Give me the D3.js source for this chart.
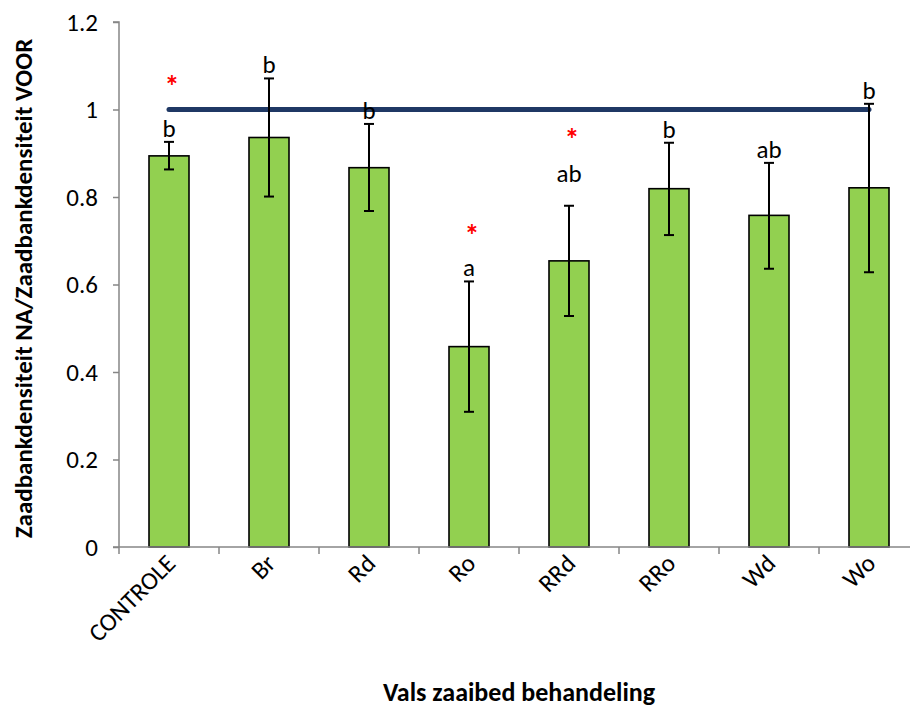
<!DOCTYPE html>
<html>
<head>
<meta charset="utf-8">
<script src="https://cdn.jsdelivr.net/npm/d3@7/dist/d3.min.js"></script>
<style>
  html, body { margin: 0; padding: 0; background: #ffffff; }
  svg { display: block; }
  text { font-family: Carlito, Calibri, Lato, "Open Sans", sans-serif; }
</style>
</head>
<body>
<div id="chart"></div>
<script>
// Treatments on the x axis
const categories = ["CONTROLE", "Br", "Rd", "Ro", "RRd", "RRo", "Wd", "Wo"];
// Mean ratio seed bank density after / before
const means = [0.894, 0.936, 0.867, 0.458, 0.654, 0.819, 0.758, 0.821];
// Upper and lower ends of the error bars
const errHigh = [0.926, 1.071, 0.967, 0.607, 0.780, 0.924, 0.878, 1.013];
const errLow  = [0.863, 0.801, 0.768, 0.309, 0.528, 0.713, 0.636, 0.628];
// Significance letters and asterisks
const letters = ["b", "b", "b", "a", "ab", "b", "ab", "b"];
const stars = [true, false, false, true, true, false, false, false];
// Reference level (ratio of 1 = no change)
const refLevel = 1;
const yTicks = [0, 0.2, 0.4, 0.6, 0.8, 1, 1.2];

const W = 910, H = 708;
const margin = { left: 119, top: 22, right: -9, bottom: 161 };
const plotW = W - margin.left - margin.right;
const plotH = H - margin.top - margin.bottom;

const svg = d3.select("#chart").append("svg")
  .attr("width", W).attr("height", H);

const g = svg.append("g").attr("transform", `translate(${margin.left},${margin.top})`);

const x = d3.scaleBand().domain(categories).range([0, plotW]).paddingInner(0.6).paddingOuter(0.3);
const y = d3.scaleLinear().domain([0, 1.2]).range([plotH, 0]);

const axisColor = "#868686";

// Bars
g.selectAll("rect.bar").data(categories).enter().append("rect")
  .attr("class", "bar")
  .attr("x", d => x(d))
  .attr("width", x.bandwidth())
  .attr("y", (d, i) => y(means[i]))
  .attr("height", (d, i) => y(0) - y(means[i]))
  .attr("fill", "#92d050")
  .attr("stroke", "#000")
  .attr("stroke-width", 1.6);

// Y axis
const yAxis = g.append("g")
  .call(d3.axisLeft(y).tickValues(yTicks).tickSize(6).tickPadding(15)
    .tickFormat(d => d3.format("")(d)));
yAxis.select(".domain").attr("stroke", axisColor).attr("stroke-width", 1.5).attr("d", `M-6,0H0V${plotH}`);
yAxis.selectAll(".tick line").attr("stroke", axisColor).attr("stroke-width", 1.5);
yAxis.selectAll(".tick text").attr("fill", "#000").attr("font-size", 25);

// X axis with ticks on category boundaries
const xAxisG = g.append("g").attr("transform", `translate(0,${plotH})`);
xAxisG.append("line").attr("x1", -6).attr("x2", plotW).attr("y1", 0).attr("y2", 0)
  .attr("stroke", axisColor).attr("stroke-width", 1.5);
const step = x.step();
const boundaries = d3.range(categories.length + 1).map(i => x(categories[0]) - x.paddingInner() * step / 2 + i * step);
xAxisG.selectAll("line.tk").data(boundaries).enter().append("line")
  .attr("class", "tk")
  .attr("x1", d => d).attr("x2", d => d).attr("y1", 0).attr("y2", 7)
  .attr("stroke", axisColor).attr("stroke-width", 1.5);

// Rotated category labels
xAxisG.selectAll("text.cat").data(categories).enter().append("text")
  .attr("class", "cat")
  .attr("transform", d => `translate(${x(d) + x.bandwidth() / 2 + 8},${18}) rotate(-45)`)
  .attr("text-anchor", "end")
  .attr("font-size", 25)
  .attr("fill", "#000")
  .text(d => d);

// Reference line at 1
const cx = d => x(d) + x.bandwidth() / 2;
g.append("line")
  .attr("x1", cx(categories[0])).attr("x2", cx(categories[categories.length - 1]))
  .attr("y1", y(refLevel)).attr("y2", y(refLevel))
  .attr("stroke", "#1f3864").attr("stroke-width", 5).attr("stroke-linecap", "round");

// Error bars
const capHalf = 5;
const eb = g.selectAll("g.err").data(categories).enter().append("g").attr("class", "err")
  .attr("stroke", "#000").attr("stroke-width", 2);
eb.append("line").attr("x1", d => cx(d)).attr("x2", d => cx(d))
  .attr("y1", (d, i) => y(errHigh[i])).attr("y2", (d, i) => y(errLow[i]));
eb.append("line").attr("x1", d => cx(d) - capHalf).attr("x2", d => cx(d) + capHalf)
  .attr("y1", (d, i) => y(errHigh[i])).attr("y2", (d, i) => y(errHigh[i]));
eb.append("line").attr("x1", d => cx(d) - capHalf).attr("x2", d => cx(d) + capHalf)
  .attr("y1", (d, i) => y(errLow[i])).attr("y2", (d, i) => y(errLow[i]));

// Letters sit just above the error bar; a few are lifted further
const letterLift = { RRd: 19 };
const letterBase = (d, i) => y(errHigh[i]) - 5 - (letterLift[d] || 0);
g.selectAll("text.letter").data(categories).enter().append("text")
  .attr("class", "letter")
  .attr("x", d => cx(d))
  .attr("y", letterBase)
  .attr("text-anchor", "middle")
  .attr("font-size", 25)
  .attr("fill", "#000")
  .text((d, i) => letters[i]);

// Asterisks above the letters (value = distance of the star's centre above the letter baseline)
const starLift = { CONTROLE: 58, Ro: 48, RRd: 50 };
g.selectAll("text.star").data(categories.filter((d, i) => stars[i])).enter().append("text")
  .attr("class", "star")
  .attr("x", d => cx(d) + 3)
  .attr("y", d => letterBase(d, categories.indexOf(d)) - starLift[d] + 17)
  .attr("text-anchor", "middle")
  .attr("font-size", 30)
  .attr("font-weight", "bold")
  .attr("fill", "#ff0000")
  .text("*");

// Axis titles
svg.append("text")
  .attr("transform", `translate(${margin.left + plotW / 2},${701})`)
  .attr("text-anchor", "middle")
  .attr("font-size", 26)
  .attr("font-weight", "bold")
  .text("Vals zaaibed behandeling");

svg.append("text")
  .attr("transform", `translate(${32},${margin.top + plotH / 2 + 4}) rotate(-90)`)
  .attr("text-anchor", "middle")
  .attr("font-size", 25)
  .attr("font-weight", "bold")
  .text("Zaadbankdensiteit NA/Zaadbankdensiteit VOOR");
</script>
</body>
</html>
